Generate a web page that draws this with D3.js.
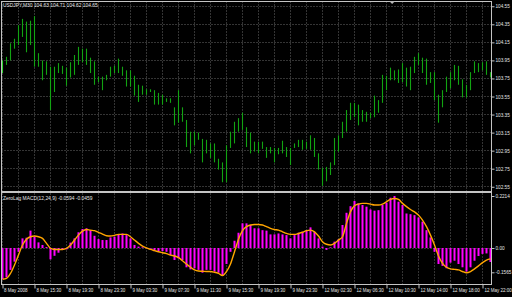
<!DOCTYPE html>
<html>
<head>
<meta charset="utf-8">
<script src="https://cdn.jsdelivr.net/npm/d3@7"></script>
<style>
    body { margin: 0; background: #000; }
    svg { display: block; }
    text { font-family: "Liberation Sans", Arial, sans-serif; fill: #e6e6e6; }
</style>
</head>
<body>
<div id="chart"></div>
<script>
// USDJPY M30 bars (high / low), one per 30 minutes
var highs = [103.95, 103.99, 104.14, 104.19, 104.34, 104.41, 104.38, 104.39, 104.44, 104.03,
    103.95, 103.94, 103.88, 103.88, 103.92, 103.89, 103.87, 103.93, 104.01, 104.10,
    104.08, 104.08, 103.98, 103.94, 103.77, 103.77, 103.79, 103.88, 103.89, 103.97,
    103.88, 103.84, 103.84, 103.78, 103.68, 103.67, 103.63, 103.63, 103.62, 103.59,
    103.57, 103.53, 103.53, 103.43, 103.62, 103.43, 103.29, 103.16, 103.16, 103.15,
    103.08, 103.07, 103.03, 103.03, 102.86, 102.82, 103.01, 103.16, 103.27, 103.31,
    103.37, 103.21, 103.15, 103.05, 103.05, 103.05, 102.99, 102.99, 102.98, 102.98,
    103.06, 102.99, 102.98, 103.03, 103.07, 103.07, 103.05, 103.12, 103.09, 102.92,
    102.76, 102.77, 102.82, 103.09, 103.12, 103.27, 103.40, 103.48, 103.48, 103.46,
    103.40, 103.38, 103.37, 103.56, 103.51, 103.79, 103.78, 103.87, 103.84, 103.85,
    103.92, 103.87, 103.88, 103.99, 104.03, 103.98, 103.97, 103.82, 103.82, 103.57,
    103.62, 103.77, 103.82, 103.90, 103.89, 103.74, 103.68, 103.82, 103.94, 103.92,
    103.93, 103.94, 103.82];
var lows = [103.81, 103.90, 103.95, 104.08, 104.12, 104.21, 104.04, 104.12, 103.88, 103.88,
    103.73, 103.79, 103.40, 103.60, 103.81, 103.80, 103.67, 103.76, 103.79, 103.90,
    103.93, 103.90, 103.81, 103.68, 103.71, 103.62, 103.73, 103.77, 103.81, 103.81,
    103.78, 103.66, 103.66, 103.56, 103.49, 103.57, 103.57, 103.60, 103.46, 103.46,
    103.46, 103.49, 103.48, 103.23, 103.26, 103.27, 102.99, 102.92, 103.01, 103.07,
    102.82, 102.92, 102.87, 102.82, 102.74, 102.60, 102.60, 102.98, 103.03, 103.16,
    103.18, 102.99, 102.92, 102.94, 102.92, 102.97, 102.87, 102.92, 102.82, 102.91,
    102.92, 102.88, 102.79, 102.98, 102.99, 102.96, 102.97, 102.96, 102.88, 102.74,
    102.56, 102.61, 102.68, 102.79, 102.94, 103.09, 103.16, 103.29, 103.32, 103.23,
    103.27, 103.27, 103.31, 103.32, 103.37, 103.48, 103.62, 103.73, 103.73, 103.70,
    103.71, 103.66, 103.62, 103.81, 103.90, 103.81, 103.68, 103.70, 103.51, 103.26,
    103.43, 103.60, 103.64, 103.73, 103.68, 103.54, 103.54, 103.62, 103.81, 103.82,
    103.84, 103.79, 103.76];

// ZeroLag MACD histogram and signal
var macdHist = [-0.133, -0.125, -0.093, -0.058, -0.016, 0.041, 0.044, 0.074, 0.048, 0.024,
    0.013, 0.004, -0.048, -0.033, -0.020, -0.008, -0.006, 0.023, 0.041, 0.067,
    0.081, 0.084, 0.076, 0.052, 0.038, 0.034, 0.034, 0.045, 0.048, 0.059,
    0.062, 0.055, 0.041, 0.013, 0.006, 0.003, -0.001, -0.003, -0.013, -0.013,
    -0.013, -0.016, -0.030, -0.051, -0.044, -0.051, -0.082, -0.091, -0.086, -0.093,
    -0.105, -0.093, -0.093, -0.100, -0.105, -0.119, -0.068, -0.016, 0.031, 0.065,
    0.105, 0.105, 0.098, 0.084, 0.084, 0.076, 0.074, 0.058, 0.058, 0.062,
    0.058, 0.055, 0.041, 0.055, 0.065, 0.069, 0.074, 0.088, 0.069, 0.041,
    0.006, -0.008, 0.003, 0.027, 0.037, 0.098, 0.150, 0.178, 0.200, 0.190,
    0.183, 0.176, 0.164, 0.159, 0.161, 0.183, 0.193, 0.214, 0.2214, 0.197,
    0.183, 0.147, 0.144, 0.140, 0.130, 0.112, 0.076, 0.045, -0.016, -0.068,
    -0.076, -0.086, -0.062, -0.054, -0.068, -0.082, -0.100, -0.082, -0.054, -0.034,
    -0.025, -0.023, -0.0594];
var macdSignal = [-0.133, -0.129, -0.108, -0.072, -0.030, 0.013, 0.037, 0.048, 0.051, 0.048,
    0.041, 0.020, -0.001, -0.006, -0.006, -0.006, -0.001, 0.013, 0.034, 0.055,
    0.072, 0.079, 0.076, 0.074, 0.067, 0.059, 0.052, 0.051, 0.054, 0.058,
    0.058, 0.058, 0.048, 0.034, 0.020, 0.008, 0.001, -0.006, -0.011, -0.016,
    -0.020, -0.024, -0.030, -0.034, -0.041, -0.054, -0.068, -0.082, -0.093, -0.098,
    -0.099, -0.100, -0.100, -0.103, -0.108, -0.117, -0.100, -0.068, -0.016, 0.037,
    0.074, 0.091, 0.098, 0.100, 0.100, 0.098, 0.091, 0.084, 0.079, 0.076,
    0.069, 0.062, 0.058, 0.058, 0.062, 0.067, 0.074, 0.076, 0.069, 0.051,
    0.027, 0.016, 0.013, 0.020, 0.034, 0.048, 0.105, 0.155, 0.180, 0.187,
    0.190, 0.190, 0.187, 0.183, 0.183, 0.187, 0.197, 0.207, 0.211, 0.207,
    0.190, 0.176, 0.164, 0.154, 0.140, 0.119, 0.091, 0.055, 0.013, -0.034,
    -0.065, -0.082, -0.089, -0.091, -0.093, -0.100, -0.105, -0.100, -0.089, -0.076,
    -0.062, -0.051, -0.0459];

var priceTicks = [104.55, 104.35, 104.15, 103.95, 103.75, 103.55, 103.35, 103.15, 102.95, 102.75, 102.55];
var macdTicks = [0.2214, 0, -0.1565];
var macdTickLabels = ['0.2214', '0.00', '-0.1565'];
var timeLabels = ['8 May 2008', '8 May 15:30', '8 May 19:30', '8 May 23:30', '9 May 03:30', '9 May 07:30',
    '9 May 11:30', '9 May 15:30', '9 May 19:30', '9 May 23:30', '12 May 02:30', '12 May 06:30',
    '12 May 10:30', '12 May 14:00', '12 May 18:00', '12 May 22:00'];
var mainTitle = 'USDJPY,M30  104.63 104.71 104.62 104.65';
var macdTitle = 'ZeroLag MACD(12,24,9) -0.0594 -0.0459';

var width = 512, height = 297;
var left = 1.5, right = 491.5, mainTop = 1.5, mainBottom = 191, subTop = 193.5, subBottom = 284.5;
var gridColor = '#686868', borderColor = '#c4c4c4';

var svg = d3.select('#chart').append('svg')
    .attr('width', width).attr('height', height)
    .style('background', '#000');

var x = d3.scaleLinear().domain([0, highs.length - 1]).range([2.5, 490.5]);
var y = d3.scaleLinear().domain([102.55, 104.55]).range([186.75, 6.25]);
var yM = d3.scaleLinear().domain([-0.1565, 0.2214]).range([284.8, 196]);

function crisp(v) {
    return Math.round(v - 0.5) + 0.5;
}

//grid
var gridIdx = d3.range(0, highs.length, 4);
[[mainTop, mainBottom], [subTop, subBottom]].forEach(function (p) {
    svg.append('g').selectAll('line')
        .data(gridIdx)
        .enter()
        .append('line')
        .attr('x1', function (d) { return x(d); })
        .attr('x2', function (d) { return x(d); })
        .attr('y1', p[0]).attr('y2', p[1])
        .attr('stroke', gridColor)
        .attr('stroke-dasharray', '1,2');
});
svg.append('g').selectAll('line')
    .data(priceTicks)
    .enter()
    .append('line')
    .attr('x1', left).attr('x2', right)
    .attr('y1', function (d) { return crisp(y(d)); })
    .attr('y2', function (d) { return crisp(y(d)); })
    .attr('stroke', gridColor)
    .attr('stroke-dasharray', '1,2');
svg.append('line')
    .attr('x1', left).attr('x2', right)
    .attr('y1', crisp(yM(0))).attr('y2', crisp(yM(0)))
    .attr('stroke', gridColor)
    .attr('stroke-dasharray', '1,2');

// price bars
svg.append('g').selectAll('line')
    .data(highs)
    .enter()
    .append('line')
    .attr('x1', function (d, i) { return x(i); })
    .attr('x2', function (d, i) { return x(i); })
    .attr('y1', function (d) { return y(d); })
    .attr('y2', function (d, i) { return y(lows[i]); })
    .attr('stroke', function (d, i) { return i === 0 ? '#2fd42f' : '#12a312'; })
    .attr('stroke-width', 1.1);

// macd histogram
svg.append('g').selectAll('rect')
    .data(macdHist)
    .enter()
    .append('rect')
    .attr('fill', '#ff00ff')
    .attr('x', function (d, i) { return x(i) - 1; })
    .attr('width', 2)
    .attr('y', function (d) { return Math.min(yM(d), yM(0)); })
    .attr('height', function (d) { return Math.abs(yM(d) - yM(0)); });

var signalLine = d3.line()
    .x(function (d, i) { return x(i); })
    .y(function (d) { return yM(d); })
    .curve(d3.curveMonotoneX);
svg.append('path')
    .datum(macdSignal)
    .attr('d', signalLine)
    .attr('fill', 'none')
    .attr('stroke', '#ffa500')
    .attr('stroke-width', 1.4);

// frames
svg.append('rect')
    .attr('x', left).attr('y', mainTop)
    .attr('width', right - left).attr('height', subBottom - mainTop)
    .attr('fill', 'none').attr('stroke', borderColor);
svg.append('rect')
    .attr('x', left).attr('y', mainBottom)
    .attr('width', right - left).attr('height', 2)
    .attr('fill', borderColor);

// chart shift marker
var shiftX = x(97.4);
svg.append('path')
    .attr('d', 'M' + (shiftX - 3) + ',1L' + (shiftX + 3) + ',1L' + shiftX + ',4Z')
    .attr('fill', '#b8b8b8');

// axes
var priceAxis = svg.append('g')
    .attr('transform', 'translate(' + right + ',0)')
    .call(d3.axisRight(y).tickValues(priceTicks).tickFormat(d3.format('.2f')).tickSize(3).tickPadding(1));
var macdAxis = svg.append('g')
    .attr('transform', 'translate(' + right + ',0)')
    .call(d3.axisRight(yM).tickValues(macdTicks)
        .tickFormat(function (d, i) { return macdTickLabels[i]; })
        .tickSize(3).tickPadding(1));
macdAxis.selectAll('.tick')
    .filter(function (d) { return d < 0; })
    .attr('transform', function (d) { return 'translate(0,' + (yM(d) - 12) + ')'; });

var timeAxis = svg.append('g')
    .attr('transform', 'translate(0,' + subBottom + ')')
    .call(d3.axisBottom(x).tickValues(d3.range(0, highs.length, 8))
        .tickFormat(function (d, i) { return timeLabels[i]; })
        .tickSize(4));
timeAxis.selectAll('text')
    .attr('text-anchor', 'start')
    .attr('x', function (d, i) { return i === 0 ? 1 : 1.5; })
    .attr('y', 3)
    .attr('dy', '0.9em')
    .style('font-size', '4.5px');

[priceAxis, macdAxis, timeAxis].forEach(function (g) {
    g.select('.domain').remove();
    g.selectAll('line').attr('stroke', borderColor);
    g.selectAll('text').attr('fill', '#ececec').style('font-family', '"Liberation Sans", Arial, sans-serif');
});
priceAxis.selectAll('text').style('font-size', '4.7px');
macdAxis.selectAll('text').style('font-size', '4.7px');

// titles
svg.append('text')
    .attr('x', 3).attr('y', 7)
    .style('font-size', '4.9px')
    .text(mainTitle);
svg.append('text')
    .attr('x', 3).attr('y', 200)
    .style('font-size', '4.9px')
    .text(macdTitle);
</script>
</body>
</html>
